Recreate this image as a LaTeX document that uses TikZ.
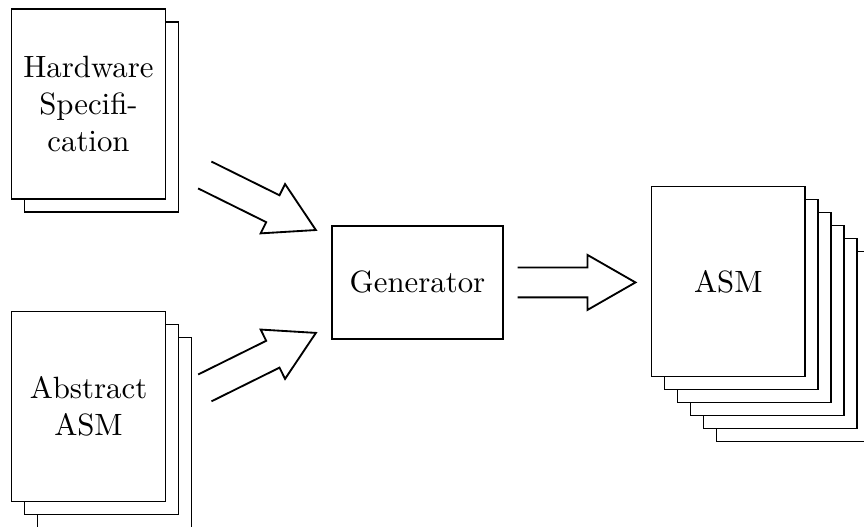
\documentclass[tikz,border=0pt]{standalone}
\usepackage{tikz}
\usetikzlibrary{calc,shadows}

\begin{document}
\begin{tikzpicture}[
    doc/.style={draw, fill=white, minimum width=1.75cm, minimum height=2.17cm, align=center, inner sep=0pt},
    sheet/.style={copy shadow={shadow xshift=#1*4.22pt, shadow yshift=-#1*4.22pt, draw, fill=white}},
    box/.style={draw, fill=white, minimum width=1.95cm, minimum height=1.29cm},
    pics/fatarrow/.style={code={
        \draw[semithick] (0,0.171) -- ({#1-0.548},0.171) -- ({#1-0.548},0.314) -- (#1,0)
            -- ({#1-0.548},-0.314) -- ({#1-0.548},-0.171) -- (0,-0.171);
    }},
    ]
    \useasboundingbox (0,0) rectangle (9.86,-6.013);
    \node[doc, sheet=1] (hw) at (1.01,-1.187) {Hardware\\Specifi-\\cation};
    \node[doc, sheet=2, sheet=1] (abs) at (1.01,-4.638) {Abstract\\ASM};
    \node[box] (gen) at (4.764,-3.223) {Generator};
    \node[doc, sheet=5, sheet=4, sheet=3, sheet=2, sheet=1] (asm) at (8.312,-3.212) {ASM};
    % arrows
    \pic[rotate=-26.35] at ($(hw.east)+(0.445,-0.81)$) {fatarrow=1.415};
    \pic[rotate=26.35] at ($(abs.east)+(0.445,0.211)$) {fatarrow=1.415};
    \pic at ($(gen.east)+(0.16,0)$) {fatarrow=1.346};
\end{tikzpicture}
\end{document}
